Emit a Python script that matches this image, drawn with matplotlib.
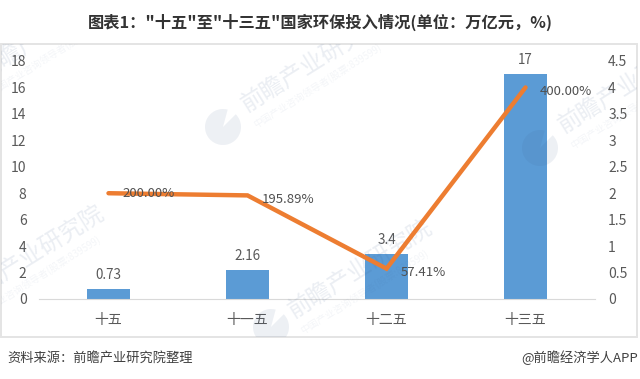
import matplotlib
matplotlib.use('Agg')
import matplotlib.pyplot as plt
import matplotlib.patches as patches
from matplotlib.transforms import IdentityTransform

plt.rcParams['font.family'] = ['Noto Sans CJK SC', 'DejaVu Sans']

W, H = 640, 379

categories = ['十五', '十一五', '十二五', '十三五']
invest = [0.73, 2.16, 3.4, 17]
invest_labels = ['0.73', '2.16', '3.4', '17']
growth = [2.0, 1.9589, 0.5741, 4.0]
growth_labels = ['200.00%', '195.89%', '57.41%', '400.00%']
left_ticks = [0, 2, 4, 6, 8, 10, 12, 14, 16, 18]
right_ticks = [0, 0.5, 1, 1.5, 2, 2.5, 3, 3.5, 4, 4.5]
right_tick_labels = ['0', '0.5', '1', '1.5', '2', '2.5', '3', '3.5', '4', '4.5']

title = '图表1："十五"至"十三五"国家环保投入情况(单位：万亿元，%)'
source = '资料来源：前瞻产业研究院整理'
credit = '@前瞻经济学人APP'
mark_big = '前瞻产业研究院'
mark_small = '中国产业咨询领导者(股票:839599)'

# where each watermark text starts, px from top-left
mark_starts = [(-20, 73), (243, 106), (560, 127), (-38, 298), (290, 312)]
logo_centers = [(223, 127), (540, 148), (271, 327)]


def fx(px):
    return px / W


def fy(py):
    return 1 - py / H


def add_marks(fig, frame):
    # watermark sits over the bars but under the line
    for x, y in logo_centers:
        w = patches.Wedge((x, H - y), 18, 75, 405, transform=IdentityTransform(),
                          fc='#3a5a8c', ec='none', alpha=0.09, zorder=2)
        fig.add_artist(w)
        w.set_clip_path(frame)
    for x, y in mark_starts:
        t = fig.text(fx(x), fy(y), mark_big, fontsize=17, color='#3a5a8c', alpha=0.1, rotation=32,
                     ha='left', va='center', rotation_mode='anchor', zorder=2)
        t.set_clip_path(frame)
        t.set_clip_on(True)
        s = fig.text(fx(x + 11), fy(y + 19), mark_small, fontsize=7, color='#3a5a8c', alpha=0.06, rotation=32,
                     ha='left', va='center', rotation_mode='anchor', zorder=2)
        s.set_clip_path(frame)
        s.set_clip_on(True)


def main():
    fig = plt.figure(figsize=(6.4, 3.79), dpi=100, facecolor='white')

    # outer frame
    frame = patches.Rectangle((fx(1), fy(337)), fx(636), 293 / H, transform=fig.transFigure,
                              fill=False, ec='#e4e4e4', lw=1.4, zorder=1)
    fig.add_artist(frame)
    add_marks(fig, frame)

    ax = fig.add_axes([fx(39), fy(299), 556 / W, 238 / H])
    ax.patch.set_alpha(0)
    ax.set_zorder(1)
    ax2 = ax.twinx()
    ax2.patch.set_alpha(0)
    ax2.set_zorder(3)

    x = list(range(len(categories)))
    ax.bar(x, invest, width=0.313, color='#5b9bd5', zorder=2)
    ax.set_xlim(-0.5, 3.5)
    ax.set_ylim(0, 18)
    ax.set_yticks(left_ticks)
    ax.set_xticks(x)
    ax.set_xticklabels(categories, fontsize=13.5, color='#595959')

    ax2.plot(x, growth, color='#ed7d31', lw=3.2, zorder=3, solid_joinstyle='miter', solid_capstyle='round')
    ax2.set_ylim(0, 4.5)
    ax2.set_yticks(right_ticks)
    ax2.set_yticklabels(right_tick_labels)

    for a in (ax, ax2):
        for s in a.spines.values():
            s.set_visible(False)
        a.tick_params(length=0, labelsize=10, labelcolor='#595959')
    ax.spines['bottom'].set_visible(True)
    ax.spines['bottom'].set_color('#d9d9d9')
    ax.tick_params(axis='y', pad=9)
    ax.tick_params(axis='x', pad=10)
    ax2.tick_params(axis='y', pad=9.5)

    # bar values
    for i, v in enumerate(invest):
        ax.annotate(invest_labels[i], (i, v), xytext=(0, 5), textcoords='offset points',
                    ha='center', va='bottom', fontsize=9.7, color='#595959')

    # line values sit to the right of each point
    for i, v in enumerate(growth):
        ax2.annotate(growth_labels[i], (i, v), xytext=(10, -3 if i else 0), textcoords='offset points',
                     ha='left', va='center', fontsize=9.5, color='#505050', zorder=5)

    fig.text(fx(320), fy(22), title, ha='center', va='center', fontsize=11.7, fontweight='bold', color='#333333')
    fig.text(fx(7), fy(358), source, ha='left', va='center', fontsize=9.5, color='#404040')
    fig.text(fx(638), fy(358), credit, ha='right', va='center', fontsize=9.5, color='#404040')

    fig.savefig('out.png', dpi=100)


if __name__ == '__main__':
    main()
